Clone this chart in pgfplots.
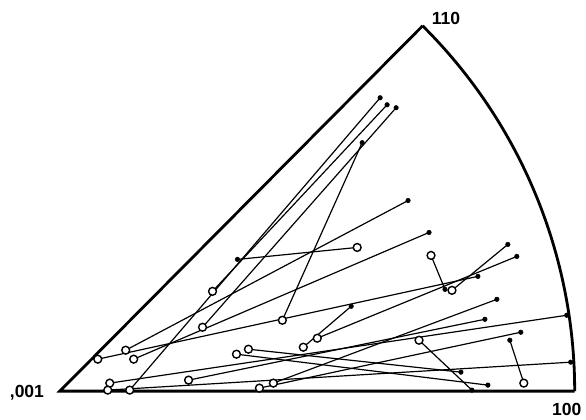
\documentclass[border=0pt]{standalone}
\usepackage{pgfplots}
\pgfplotsset{compat=1.18}
\usepackage{pgfplotstable}
\usepackage{fontspec}
\setmainfont{Liberation Sans}

% open circle (ox,oy) joined to filled dot (fx,fy), picture coordinates
\pgfplotstableread{
ox  oy  fx  fy
358 248 238 260
432 256 446 290
213 292 388 105
203 328 397 108
283 321 363 143
98  360 479 277
126 351 409 201
134 360 430 233
237 355 489 386
249 350 462 373
110 384 568 316
108 391 572 363
130 391 381 98
189 381 486 320
260 389 522 333
274 384 498 300
318 339 518 257
304 348 352 307
420 341 473 391
453 291 509 245
525 384 511 341
}\moves

\begin{document}
\begin{tikzpicture}
\begin{axis}[
    width=14.65cm, height=10.45cm, scale only axis,
    xmin=0, xmax=586, ymin=0, ymax=418,
    y dir=reverse,
    hide axis, clip=false
]
\path (axis cs:0,0) rectangle (axis cs:586,418);

% standard triangle
\draw[line width=2pt, line join=miter] (axis cs:576,392) -- (axis cs:60,392) -- (axis cs:423.6,25.9);
\draw[line width=2pt] (axis cs:576,392) arc[start angle=0, end angle=45.2, radius=12.9cm];

% rotations
\addplot[no marks, line width=0.85pt,
    quiver={u=\thisrow{fx}-\thisrow{ox}, v=\thisrow{fy}-\thisrow{oy}}]
    table[x=ox, y=oy] {\moves};
\addplot[only marks, mark=*, mark size=2.8pt,
    mark options={fill=white, draw=black, line width=1pt}]
    table[x=ox, y=oy] {\moves};
\addplot[only marks, mark=*, mark size=1.6pt, black]
    table[x=fx, y=fy] {\moves};

\node[font=\fontsize{12.5}{14}\selectfont\bfseries] at (axis cs:447,19) {110};
\node[font=\fontsize{12.5}{14}\selectfont\bfseries] at (axis cs:568,410) {100};
\node[font=\fontsize{12.5}{14}\selectfont\bfseries] at (axis cs:27,394) {,001};
\end{axis}
\end{tikzpicture}
\end{document}
